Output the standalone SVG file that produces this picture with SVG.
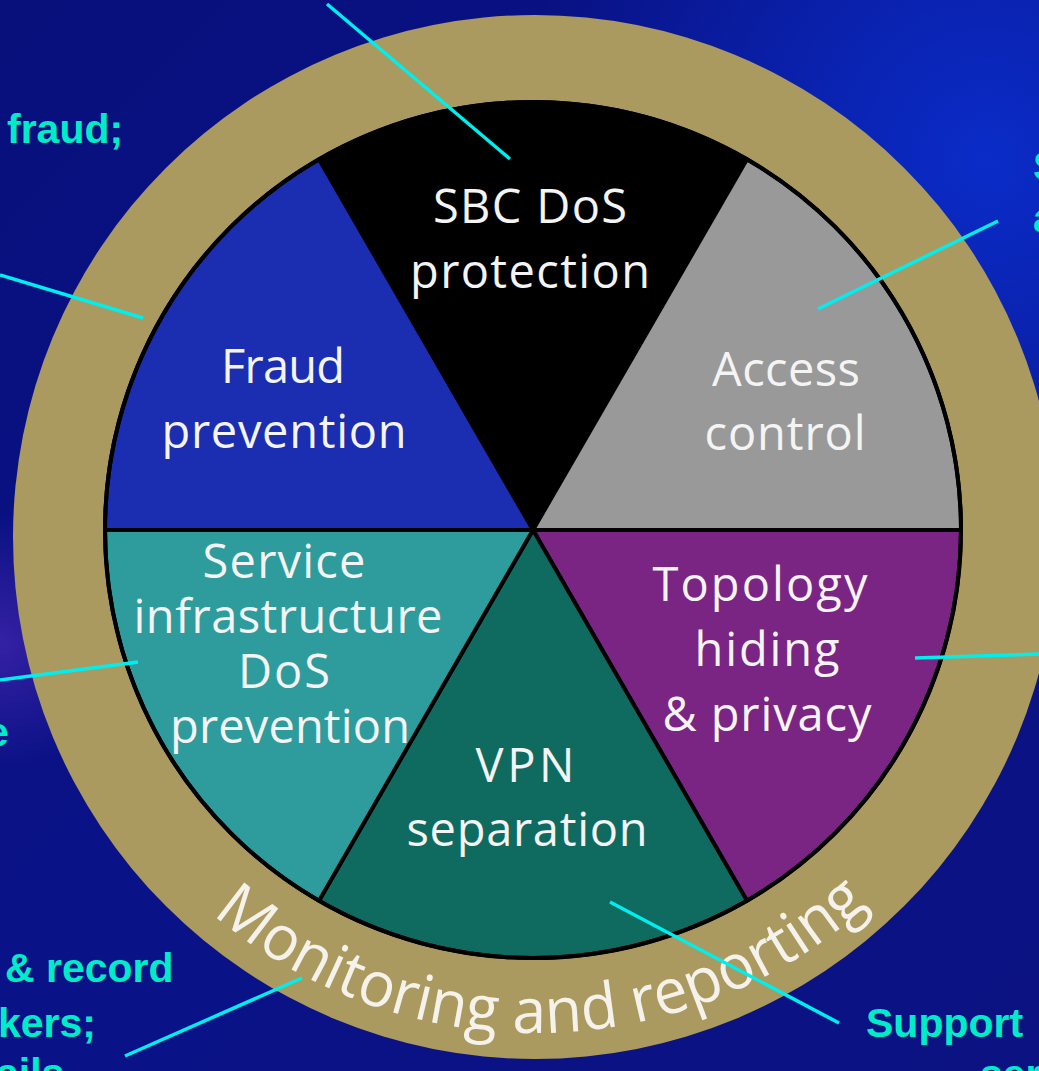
<svg xmlns="http://www.w3.org/2000/svg" width="1039" height="1071" viewBox="0 0 1039 1071">
<defs>
<linearGradient id="bg" x1="0" y1="0" x2="1" y2="1">
<stop offset="0" stop-color="#08107c"/>
<stop offset="0.5" stop-color="#0a1288"/>
<stop offset="1" stop-color="#0c1282"/>
</linearGradient>
<radialGradient id="hl" cx="0.95" cy="0.15" r="0.45">
<stop offset="0" stop-color="#0a2cc8" stop-opacity="1"/>
<stop offset="1" stop-color="#0a2cc8" stop-opacity="0"/>
</radialGradient>
<radialGradient id="pu" cx="0" cy="0.6" r="0.12">
<stop offset="0" stop-color="#3a22a8" stop-opacity="0.9"/>
<stop offset="1" stop-color="#3a22a8" stop-opacity="0"/>
</radialGradient>
<path id="arc" d="M 212.9 914.2 A 496 496 0 0 0 915 856"/>
<style>
.sec{stroke:#000;stroke-width:4;stroke-linejoin:round}
.lbl{font-family:"Open Sans","Noto Sans","DejaVu Sans",sans-serif;font-size:47px;fill:#f4f4f4;text-anchor:middle}
.co{font-family:"Liberation Sans",Arial,sans-serif;font-weight:bold;font-size:41px;fill:#00ecc8}
.ln{stroke:#00eeee;stroke-width:3.5;fill:none}
</style>
</defs>
<rect width="1039" height="1071" fill="url(#bg)"/>
<rect width="1039" height="1071" fill="url(#hl)"/>
<rect width="1039" height="1071" fill="url(#pu)"/>

<g id="ring">
<circle cx="535" cy="537" r="522" fill="#ab9a5f"/>
<text font-family="'Open Sans','Noto Sans',sans-serif" font-size="63" fill="#f4f2ea"><textPath href="#arc" textLength="716" lengthAdjust="spacingAndGlyphs">Monitoring and reporting</textPath></text>
</g>

<g id="pie">
<circle cx="533" cy="530" r="428" fill="#000"/>
<g id="sbc-dos">
<path class="sec" d="M533 530 L319 159.3 A428 428 0 0 1 747 159.3 Z" fill="#000"/>
<text class="lbl" x="530" y="223" textLength="194">SBC DoS</text>
<text class="lbl" x="530" y="288" textLength="240">protection</text>
</g>
<g id="access-control">
<path class="sec" d="M533 530 L747 159.3 A428 428 0 0 1 961 530 Z" fill="#999999"/>
<text class="lbl" x="786" y="386" textLength="148">Access</text>
<text class="lbl" x="785" y="450" textLength="161">control</text>
</g>
<g id="topology">
<path class="sec" d="M533 530 L961 530 A428 428 0 0 1 747 900.7 Z" fill="#7a2484"/>
<text class="lbl" x="760" y="601" textLength="215">Topology</text>
<text class="lbl" x="767" y="666" textLength="145">hiding</text>
<text class="lbl" x="767" y="731" textLength="209">&amp; privacy</text>
</g>
<g id="vpn">
<path class="sec" d="M533 530 L747 900.7 A428 428 0 0 1 319 900.7 Z" fill="#0f6a60"/>
<text class="lbl" x="525" y="782" textLength="99">VPN</text>
<text class="lbl" x="527" y="846" textLength="241">separation</text>
</g>
<g id="service-dos">
<path class="sec" d="M533 530 L319 900.7 A428 428 0 0 1 105 530 Z" fill="#2e9c9c"/>
<text class="lbl" x="284" y="578" textLength="163">Service</text>
<text class="lbl" x="288" y="633" textLength="309">infrastructure</text>
<text class="lbl" x="284" y="688" textLength="92">DoS</text>
<text class="lbl" x="290" y="743" textLength="240">prevention</text>
</g>
<g id="fraud">
<path class="sec" d="M533 530 L105 530 A428 428 0 0 1 319 159.3 Z" fill="#1b2db0"/>
<text class="lbl" x="283" y="383" textLength="124">Fraud</text>
<text class="lbl" x="284" y="448" textLength="245">prevention</text>
</g>
<circle cx="533" cy="530" r="428" fill="none" stroke="#000" stroke-width="4"/>
</g>

<g id="callout-fraud"><text class="co" x="7" y="143">fraud;</text></g>
<g id="callout-access"><text class="co" x="1033" y="180">S</text><text class="co" x="1033" y="232">a</text></g>
<g id="callout-service"><text class="co" x="-14" y="746">e</text></g>
<g id="callout-monitor"><text class="co" x="5" y="982">&amp; record</text><text class="co" x="-2" y="1037">kers;</text><text class="co" x="-4" y="1087">ails</text></g>
<g id="callout-vpn"><text class="co" x="866" y="1037">Support</text><text class="co" x="980" y="1088">ser</text></g>

<g id="connectors">
<line class="ln" x1="327" y1="4" x2="510" y2="159"/>
<line class="ln" x1="0" y1="275" x2="143" y2="318"/>
<line class="ln" x1="998" y1="221" x2="818" y2="309"/>
<line class="ln" x1="0" y1="680" x2="138" y2="662"/>
<line class="ln" x1="1039" y1="654" x2="915" y2="658"/>
<line class="ln" x1="610" y1="902" x2="839" y2="1023"/>
<line class="ln" x1="125" y1="1056" x2="302" y2="978"/>
</g>
</svg>
